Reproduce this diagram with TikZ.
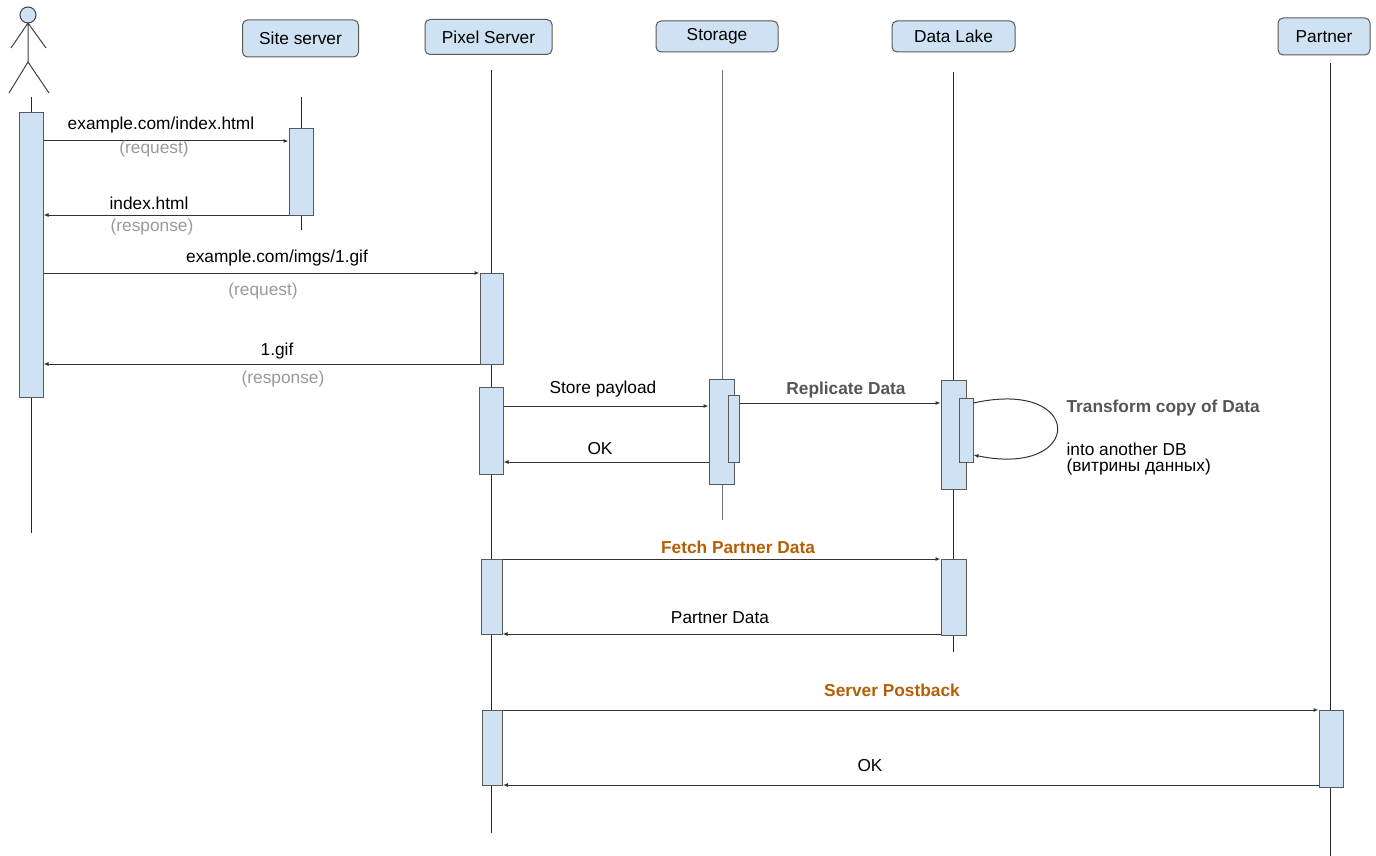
\documentclass[tikz,border=0pt]{standalone}
\usepackage{fontspec}
\setmainfont{Liberation Sans}
\usepackage{tikz}
\usetikzlibrary{arrows.meta,positioning}
\definecolor{boxfill}{HTML}{CFE2F3}
\definecolor{boxline}{HTML}{595959}
\definecolor{softgray}{HTML}{999999}
\definecolor{rust}{HTML}{B45F06}
\definecolor{darkgray}{HTML}{555555}
\tikzset{
  head/.style={draw=boxline,fill=boxfill,rounded corners=5pt,line width=1pt,
    minimum height=35,inner sep=0pt},
  act/.style={draw=boxline,fill=boxfill,line width=1pt,minimum width=24,inner sep=0pt},
  life/.style={line width=1pt,black!85},
  msg/.style={line width=1pt,black!80,-{Latex[length=5pt,width=4pt]}},
  note/.style={softgray},
  hot/.style={rust,font=\bfseries},
  every node/.style={font=\fontsize{17.3}{20}\selectfont}
}
\begin{document}
\begin{tikzpicture}[x=1pt,y=-1pt]
  \useasboundingbox (0,0) rectangle (1376,856);
  % actor
  \draw[line width=1pt,black!75,fill=boxfill] (28,15) circle (8);
  \draw[line width=1pt,black!75] (28,23) -- (28,62)
    (28,23) -- (11,48) (28,23) -- (46,48)
    (28,62) -- (9,93) (28,62) -- (49,93);
  % headers
  \node[head,minimum width=116,minimum height=37] (site) at (300.5,38.5) {Site server};
  \node[head,minimum width=127] (pix) at (488.5,37) {Pixel Server};
  \node[head,minimum width=122,minimum height=31] (stor) at (717,36.5) {Storage};
  \node[head,minimum width=123,minimum height=31] (lake) at (953.5,36.5) {Data Lake};
  \node[head,minimum width=92,minimum height=37] (part) at (1324,36.5) {Partner};
  % lifelines
  \draw[life] (31,97) -- (31,533);
  \draw[life] (301,97) -- (301,230);
  \draw[life] (491,70) -- (491,833);
  \draw[life,black!55] (722,70) -- (722,520);
  \draw[life] (953,72) -- (953,652);
  \draw[life] (1330,63) -- (1330,856);
  % activations
  \node[act,minimum height=284] (usrA) at (31,255) {};
  \node[act,minimum height=86] (siteA) at (301,172) {};
  \node[act,minimum width=23,minimum height=91] (pixA) at (491.5,318.5) {};
  \node[act,minimum width=24,minimum height=87] (pixB) at (491,430.5) {};
  \node[act,minimum width=25,minimum height=105] (storA) at (721.5,431.5) {};
  \node[act,minimum width=11,minimum height=67] (storB) at (733.5,428.5) {};
  \node[act,minimum width=25,minimum height=109] (lakeA) at (953.5,434.5) {};
  \node[act,minimum width=14,minimum height=64] (lakeB) at (966,430) {};
  \node[act,minimum width=21,minimum height=75] (pixC) at (491.5,596.5) {};
  \node[act,minimum width=25,minimum height=76] (lakeC) at (953.5,597) {};
  \node[act,minimum width=20,minimum height=75] (pixD) at (492.5,747.5) {};
  \node[act,minimum width=24,minimum height=77] (partA) at (1331,748.5) {};
  % message heights
  \coordinate (m1) at (0,141);
  \coordinate (m2) at (0,215);
  \coordinate (m3) at (0,273);
  \coordinate (m4) at (0,364);
  \coordinate (m5) at (0,406);
  \coordinate (m6) at (0,462);
  \coordinate (m7) at (0,403);
  \coordinate (m8) at (0,559);
  \coordinate (m9) at (0,634);
  \coordinate (m10) at (0,710);
  \coordinate (m11) at (0,785);
  % messages
  \draw[msg] (usrA.east |- m1) -- (siteA.west |- m1);
  \draw[msg] (siteA.west |- m2) -- (usrA.east |- m2);
  \draw[msg] (usrA.east |- m3) -- (pixA.west |- m3);
  \draw[msg] (pixA.west |- m4) -- (usrA.east |- m4);
  \draw[msg] (pixB.east |- m5) -- (storA.west |- m5);
  \draw[msg] (storA.west |- m6) -- (pixB.east |- m6);
  \draw[msg] (storB.east |- m7) -- (lakeA.west |- m7);
  \draw[msg] (lakeB.east |- 0,403) .. controls (1085,378) and (1085,478) .. (lakeB.east |- 0,455);
  \draw[msg] (pixC.east |- m8) -- (lakeC.west |- m8);
  \draw[msg] (lakeC.west |- m9) -- (pixC.east |- m9);
  \draw[msg] (pixD.east |- m10) -- (partA.west |- m10);
  \draw[msg] (partA.west |- m11) -- (pixD.east |- m11);
  % labels
  \node (t1) at (161,125) {example.com/index.html};
  \node[note] (t1b) at (154,149) {(request)};
  \node (t2) at (149,203) {index.html};
  \node[note] (t2b) at (152,227) {(response)};
  \node (t3) at (277,258) {example.com/imgs/1.gif};
  \node[note] (t3b) at (263,291) {(request)};
  \node (t4) at (277,351) {1.gif};
  \node[note] (t4b) at (283,379) {(response)};
  \node (t5) at (603,389) {Store payload};
  \node (t6) at (600,449) {OK};
  \node[darkgray,font=\fontsize{17.3}{20}\selectfont\bfseries] (t7) at (846,390) {Replicate Data};
  \node[darkgray,font=\fontsize{17.3}{20}\selectfont\bfseries,anchor=west] (t8) at (1063,408) {Transform copy of Data};
  \node[anchor=west] (t9) at (1063,449) {into another DB};
  \node[anchor=west] (t10) at (1063,467) {(витрины данных)};
  \node[hot,font=\fontsize{17.3}{20}\selectfont\bfseries] (t11) at (738,547) {Fetch Partner Data};
  \node (t12) at (720,618) {Partner Data};
  \node[hot,font=\fontsize{17.3}{20}\selectfont\bfseries] (t13) at (892,690) {Server Postback};
  \node (t14) at (870,766) {OK};
\end{tikzpicture}
\end{document}
